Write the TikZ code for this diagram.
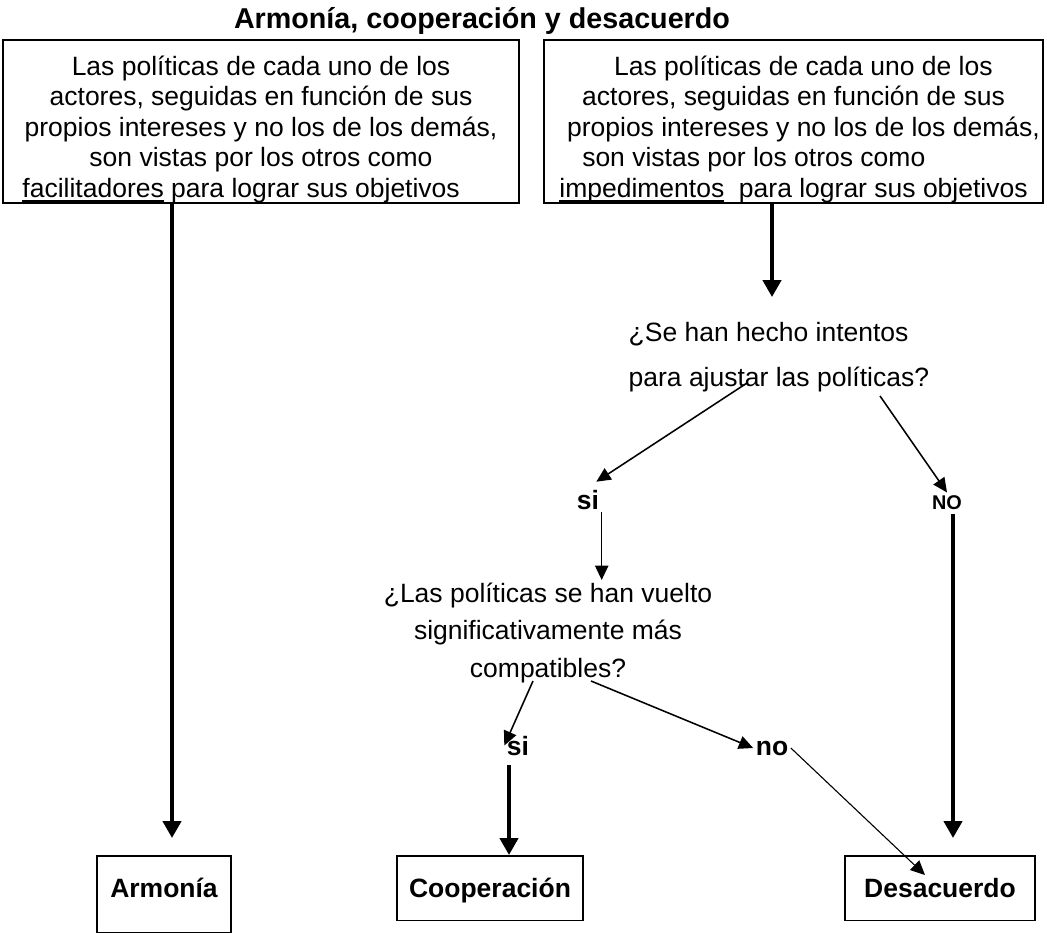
\documentclass[tikz,border=0pt]{standalone}
\usepackage{fontspec}
\setmainfont{Liberation Sans}
\usetikzlibrary{arrows.meta,calc}
\newcommand{\px}{0.453pt}
\newcommand{\subr}[1]{\setbox0\hbox{#1}\rlap{\rule[-1.9pt]{\wd0}{0.6pt}}\box0\relax}

\begin{document}
\begin{tikzpicture}[x=0.453pt,y=-0.453pt,
  txt/.style={font=\fontsize{12}{13.8}\selectfont,inner sep=1pt},
  pbox/.style={draw,line width=0.7pt,align=center,inner sep=0pt,
    font=\fontsize{12}{13.8}\selectfont,minimum height=163*\px},
  endbox/.style={draw,line width=0.7pt,inner sep=0pt,anchor=north,
    font=\bfseries\fontsize{12}{13.8}\selectfont,text height=19pt},
  lbl/.style={font=\bfseries\fontsize{12}{13.8}\selectfont,inner sep=1pt,anchor=base},
  big/.style={line width=1.8pt,-{Triangle[length=7.7pt,width=8.2pt]}},
  small/.style={line width=0.7pt,-{Triangle[length=6.5pt,width=6pt]}},
  fine/.style={line width=0.5pt,-{Triangle[length=6.5pt,width=6pt]}}]
  \useasboundingbox (0,0) rectangle (1047,933);

  \node[font=\bfseries\fontsize{13}{15}\selectfont,anchor=base,inner sep=0pt] (title) at (482,29)
    {Armonía, cooperación y desacuerdo};

  % los dos casos de partida
  \node[pbox,minimum width=516*\px] (fbox) at (261,121.5)
    {\rule{0pt}{16pt}Las políticas de cada uno de los\\
     actores, seguidas en función de sus\\
     propios intereses y no los de los demás,\\
     son vistas por los otros como\\
     \subr{facilitadores} para lograr sus objetivos\hspace*{18pt}};
  \node[pbox,minimum width=499*\px] (ibox) at (793.5,121.5)
    {\rule{0pt}{16pt}\hspace*{9pt}Las políticas de cada uno de los\\
     actores, seguidas en función de sus\\
     \hspace*{9pt}propios intereses y no los de los demás,\\
     son vistas por los otros como\hspace*{36pt}\mbox{}\\
     \subr{impedimentos}\ \ para lograr sus objetivos};

  % preguntas
  \node[txt,align=left,anchor=north west,font=\fontsize{12}{20.4}\selectfont] (q1) at (626,320)
    {¿Se han hecho intentos\\para ajustar las políticas?};
  \node[lbl] (si1) at (588,509) {si};
  \node[lbl,font=\bfseries\fontsize{9}{11}\selectfont] (no1) at (947,509) {NO};
  \node[txt,align=center,anchor=north,font=\fontsize{12}{17}\selectfont] (q2) at (548,580)
    {¿Las políticas se han vuelto\\significativamente más\\compatibles?};
  \node[lbl] (si2) at (518,755) {si};
  \node[lbl] (no2) at (772,755) {no};

  % resultados
  \node[endbox,minimum width=60.7pt,text depth=15.9pt] (arm) at (164,855) {Armonía};
  \node[endbox,minimum width=84.3pt,text depth=10.4pt] (coop) at (490,855) {Cooperación};
  \node[endbox,minimum width=86pt,text depth=10.4pt] (desac) at (940,855) {Desacuerdo};

  \coordinate (xa) at (172,0);
  \coordinate (xb) at (772,0);
  \coordinate (xc) at (509,0);
  \coordinate (xd) at (953,0);
  \coordinate (q1s) at (747,383);
  \coordinate (q1n) at (880,396);
  \coordinate (q2a) at (533,681);
  \coordinate (q2b) at (591,681);
  \coordinate (dtip) at (925,875);

  \draw[big,shorten >=7.7pt] (xa |- fbox.south) -- (xa |- arm.north);
  \draw[big,shorten >=10.4pt] (xb |- ibox.south) -- (xb |- q1.north);
  \draw[small,shorten >=4.5pt] (q1s) -- (si1.north);
  \draw[small] (q1n) -- (no1.north);
  \draw[small] (si1.south east) -- (si1.south east |- q2.north);
  \draw[small] (q2a) -- (si2.west);
  \draw[small] (q2b) -- (no2.west);
  \draw[fine] (no2.east) -- (dtip);
  \draw[big,shorten <=3pt] (xc |- si2.south) -- (xc |- coop.north);
  \draw[big,shorten <=1pt,shorten >=7.7pt] (xd |- no1.south) -- (xd |- desac.north);
\end{tikzpicture}
\end{document}
